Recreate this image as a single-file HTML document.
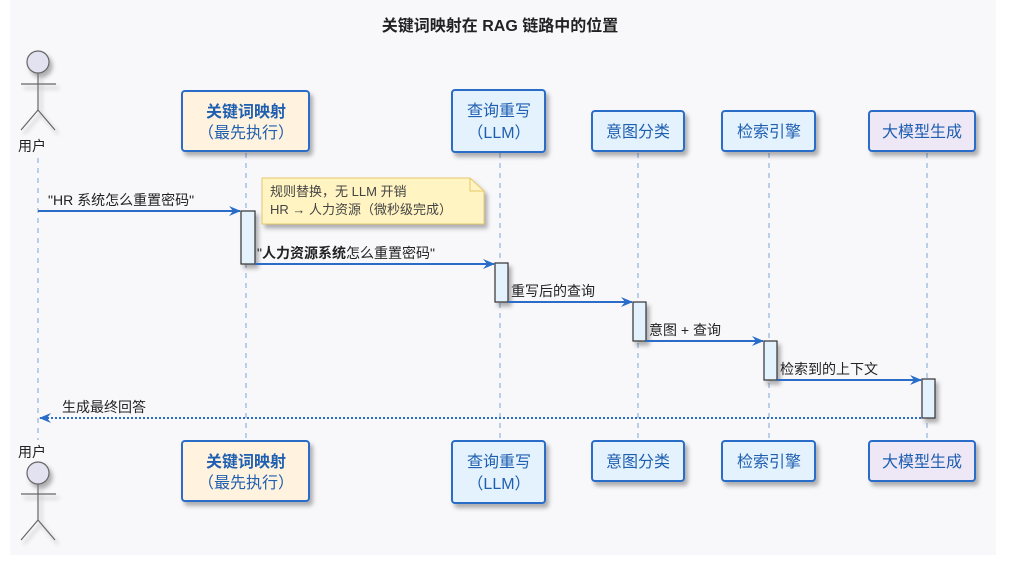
<!DOCTYPE html>
<html><head><meta charset="utf-8"><style>
html,body{margin:0;padding:0;background:#fff;width:1024px;height:561px;overflow:hidden}
text{font-family:"Liberation Sans","Noto Sans CJK SC",sans-serif}
</style></head><body>
<svg width="1024" height="561" xmlns="http://www.w3.org/2000/svg">
<defs>
<filter id="sh" x="-10%" y="-10%" width="130%" height="140%"><feDropShadow dx="3" dy="4" stdDeviation="2" flood-color="#000" flood-opacity="0.3"/></filter>
<marker id="ar" markerWidth="12" markerHeight="10" refX="11" refY="5" orient="auto" markerUnits="userSpaceOnUse"><path d="M0,0 L12,5 L0,10 L4,5 Z" fill="#2a6dc9"/></marker>
</defs>
<rect x="10" y="0" width="986" height="555" fill="#f8f8fb"/>
<text x="500" y="31" text-anchor="middle" font-size="16" font-weight="bold" fill="#222">关键词映射在 RAG 链路中的位置</text>
<g stroke="#7ea6dc" stroke-width="1" stroke-dasharray="5,5">
<line x1="38" y1="158" x2="38" y2="440"/>
<line x1="246" y1="153" x2="246" y2="441"/>
<line x1="500" y1="153" x2="500" y2="441"/>
<line x1="638" y1="153" x2="638" y2="441"/>
<line x1="769" y1="153" x2="769" y2="441"/>
<line x1="927" y1="153" x2="927" y2="441"/>
</g>
<g fill="none" stroke="#666" stroke-width="1.2">
<g filter="url(#sh)"><circle cx="38" cy="62" r="11" fill="#e2e2f0" stroke="#666"/>
<line x1="38" y1="73" x2="38" y2="110"/><line x1="21" y1="84" x2="56" y2="84"/>
<path d="M21,130 L38,110 L55,130"/></g>
<g filter="url(#sh)"><circle cx="38" cy="473" r="11" fill="#e2e2f0" stroke="#666"/>
<line x1="38" y1="484" x2="38" y2="520"/><line x1="21" y1="494" x2="56" y2="494"/>
<path d="M21,540 L38,520 L55,540"/></g>
</g>
<text x="32" y="151" text-anchor="middle" font-size="14" fill="#222">用户</text>
<text x="32" y="457" text-anchor="middle" font-size="14" fill="#222">用户</text>
<g stroke="#2a6dc9" stroke-width="2" filter="url(#sh)">
<rect x="182" y="91" width="127" height="60" rx="3" fill="#fff3e0"/>
<rect x="452" y="90" width="93" height="62" rx="3" fill="#e3f2fd"/>
<rect x="592" y="111" width="92" height="40" rx="3" fill="#e3f2fd"/>
<rect x="722" y="111" width="93" height="40" rx="3" fill="#e3f2fd"/>
<rect x="869" y="111" width="106" height="40" rx="3" fill="#ede7f6"/>
<rect x="182" y="441" width="127" height="60" rx="3" fill="#fff3e0"/>
<rect x="452" y="441" width="93" height="62" rx="3" fill="#e3f2fd"/>
<rect x="592" y="441" width="92" height="40" rx="3" fill="#e3f2fd"/>
<rect x="722" y="441" width="93" height="40" rx="3" fill="#e3f2fd"/>
<rect x="869" y="441" width="106" height="40" rx="3" fill="#ede7f6"/>
</g>
<g font-size="16" fill="#1f5fb0" text-anchor="middle">
<text x="246" y="117" font-weight="bold">关键词映射</text><text x="246" y="138">（最先执行）</text>
<text x="499" y="116">查询重写</text><text x="499" y="138">（LLM）</text>
<text x="638" y="137">意图分类</text><text x="769" y="137">检索引擎</text><text x="922" y="137">大模型生成</text>
<text x="246" y="467" font-weight="bold">关键词映射</text><text x="246" y="488">（最先执行）</text>
<text x="499" y="467">查询重写</text><text x="499" y="489">（LLM）</text>
<text x="638" y="467">意图分类</text><text x="769" y="467">检索引擎</text><text x="922" y="467">大模型生成</text>
</g>
<g filter="url(#sh)"><path d="M262,178 L470,178 L484,191 L484,224 L262,224 Z" fill="#fff4c2" stroke="#e6c96a"/></g>
<path d="M470,178 L470,191 L484,191" fill="none" stroke="#e6c96a"/>
<text x="270" y="196" font-size="13" fill="#444">规则替换，无 LLM 开销</text>
<text x="270" y="214" font-size="13" fill="#444">HR → 人力资源（微秒级完成）</text>
<g fill="#e3f2fd" stroke="#333" stroke-width="1.2" filter="url(#sh)">
<rect x="241" y="211" width="14" height="53"/>
<rect x="495" y="263" width="13" height="39"/>
<rect x="633" y="302" width="13" height="39"/>
<rect x="764" y="341" width="13" height="39"/>
<rect x="922" y="379" width="13" height="39"/>
</g>
<g stroke="#2a6dc9" stroke-width="2" fill="none">
<line x1="38" y1="211" x2="240" y2="211" marker-end="url(#ar)"/>
<line x1="255" y1="264" x2="494" y2="264" marker-end="url(#ar)"/>
<line x1="508" y1="302" x2="632" y2="302" marker-end="url(#ar)"/>
<line x1="646" y1="341" x2="763" y2="341" marker-end="url(#ar)"/>
<line x1="777" y1="380" x2="921" y2="380" marker-end="url(#ar)"/>
<line x1="921" y1="418" x2="40" y2="418" stroke-dasharray="2,2" marker-end="url(#ar)"/>
</g>
<g font-size="14" fill="#222">
<text x="48" y="205">"HR 系统怎么重置密码"</text>
<text x="257" y="258">"<tspan font-weight="bold">人力资源系统</tspan>怎么重置密码"</text>
<text x="511" y="296">重写后的查询</text>
<text x="649" y="335">意图 + 查询</text>
<text x="780" y="374">检索到的上下文</text>
<text x="62" y="412">生成最终回答</text>
</g>
</svg>
</body></html>
